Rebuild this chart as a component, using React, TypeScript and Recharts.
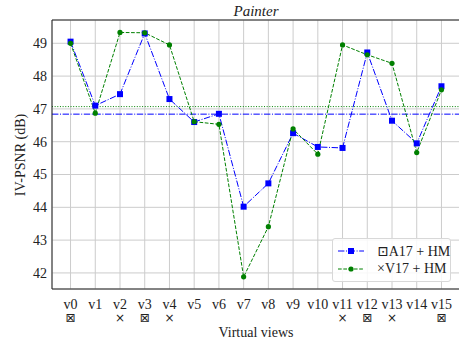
import { LineChart, Line, XAxis, YAxis, CartesianGrid, ReferenceLine, Customized } from 'recharts';

const views = ['v0', 'v1', 'v2', 'v3', 'v4', 'v5', 'v6', 'v7', 'v8', 'v9', 'v10', 'v11', 'v12', 'v13', 'v14', 'v15'];
const viewMarks = ['⊠', '', '×', '⊠', '×', '', '', '', '', '', '', '×', '⊠', '×', '', '⊠'];
const a17Hm = [49.05, 47.1, 47.45, 49.3, 47.3, 46.6, 46.85, 44.02, 44.73, 46.26, 45.84, 45.81, 48.72, 46.64, 45.95, 47.69];
const v17Hm = [49.0, 46.87, 49.33, 49.32, 48.95, 46.61, 46.53, 41.88, 43.41, 46.39, 45.62, 48.95, 48.65, 48.39, 45.67, 47.58];
const a17HmMean = 46.84;
const v17HmMean = 47.07;
const yTicks = [42, 43, 44, 45, 46, 47, 48, 49];

const Y_MIN = 41.51;
const Y_MAX = 49.71;
const FONT = '"Liberation Serif", "DejaVu Serif", serif';
const BLUE = '#0000ff';
const GREEN = '#008000';
const SPINE = '#222222';

const data = views.map((v, i) => ({ i, view: v, a17: a17Hm[i], v17: v17Hm[i] }));

const ViewTick = ({ x, y, payload }: any) => {
  const idx = payload.value as number;
  return (
    <g>
      <text x={x} y={y + 13} textAnchor="middle" dominantBaseline="central" style={{ fontFamily: FONT, fontSize: 14 }} fill="#222">
        {views[idx]}
      </text>
      {viewMarks[idx] && (
        <text x={x} y={y + 27} textAnchor="middle" dominantBaseline="central" style={{ fontFamily: '"DejaVu Sans", sans-serif', fontSize: 12 }} fill="#222">
          {viewMarks[idx]}
        </text>
      )}
    </g>
  );
};

const SquareDot = ({ cx, cy, index }: any) => (
  <rect key={`sq-${index}`} x={cx - 3} y={cy - 3} width={6} height={6} fill={BLUE} />
);

const CircleDot = ({ cx, cy, index }: any) => (
  <circle key={`ci-${index}`} cx={cx} cy={cy} r={2.6} fill={GREEN} />
);

// title and axis captions
const Texts = () => (
  <g fill="#222">
    <text x={256} y={11} textAnchor="middle" dominantBaseline="central" style={{ fontFamily: FONT, fontSize: 15, fontStyle: 'italic' }}>
      Painter
    </text>
    <text transform="translate(20,155) rotate(-90)" textAnchor="middle" dominantBaseline="central" style={{ fontFamily: FONT, fontSize: 14 }}>
      IV-PSNR (dB)
    </text>
    <text x={256} y={332} textAnchor="middle" dominantBaseline="central" style={{ fontFamily: FONT, fontSize: 14 }}>
      Virtual views
    </text>
  </g>
);

const LegendBox = () => (
  <div
    style={{
      position: 'absolute',
      left: 332,
      top: 238,
      width: 119,
      height: 44,
      background: 'rgba(255,255,255,0.85)',
      border: '1px solid #d8d8d8',
      borderRadius: 3,
      boxSizing: 'border-box',
      fontFamily: FONT,
      fontSize: 14,
      color: '#222',
    }}
  >
    {[
      { label: '⊡A17 + HM', color: BLUE, dash: '6.4 1.6 1 1.6', square: true },
      { label: '×V17 + HM', color: GREEN, dash: '3.7 1.6', square: false },
    ].map((item, k) => (
      <div key={k} style={{ position: 'absolute', left: 4, top: 4 + k * 18, height: 16, display: 'flex', alignItems: 'center' }}>
        <svg width={28} height={16}>
          <line x1={1} y1={8} x2={27} y2={8} stroke={item.color} strokeWidth={1} strokeDasharray={item.dash} />
          {item.square ? (
            <rect x={11} y={5} width={6} height={6} fill={item.color} />
          ) : (
            <circle cx={14} cy={8} r={2.6} fill={item.color} />
          )}
        </svg>
        <span style={{ marginLeft: 12, whiteSpace: 'nowrap' }}>{item.label}</span>
      </div>
    ))}
  </div>
);

export default function App() {
  return (
    <div style={{ position: 'fixed', left: 0, top: 0, width: 460, height: 344, background: '#fff' }}>
      <LineChart width={460} height={344} data={data} margin={{ top: 20, right: 0, bottom: 0, left: 0 }}>
        <CartesianGrid stroke="#cccccc" strokeWidth={1} />
        <XAxis
          dataKey="i"
          type="number"
          domain={[-0.75, 15.75]}
          ticks={views.map((_, i) => i)}
          interval={0}
          height={55}
          tickLine={false}
          tickSize={0}
          axisLine={{ stroke: SPINE }}
          tick={<ViewTick />}
          allowDataOverflow
        />
        <YAxis
          type="number"
          domain={[Y_MIN, Y_MAX]}
          ticks={yTicks}
          width={52}
          tickLine={false}
          tickSize={0}
          tickMargin={5}
          axisLine={{ stroke: SPINE }}
          tick={{ fontFamily: FONT, fontSize: 14, fill: '#222' }}
          allowDataOverflow
        />
        <ReferenceLine y={Y_MAX} stroke={SPINE} />
        <ReferenceLine y={a17HmMean} stroke={BLUE} strokeDasharray="6.4 1.6 1 1.6" />
        <ReferenceLine y={v17HmMean} stroke={GREEN} strokeDasharray="1 1.65" />
        <Line
          dataKey="a17"
          stroke={BLUE}
          strokeWidth={1}
          strokeDasharray="6.4 1.6 1 1.6"
          dot={<SquareDot />}
          isAnimationActive={false}
        />
        <Line
          dataKey="v17"
          stroke={GREEN}
          strokeWidth={1}
          strokeDasharray="3.7 1.6"
          dot={<CircleDot />}
          isAnimationActive={false}
        />
        <Customized component={<Texts />} />
      </LineChart>
      <LegendBox />
    </div>
  );
}
